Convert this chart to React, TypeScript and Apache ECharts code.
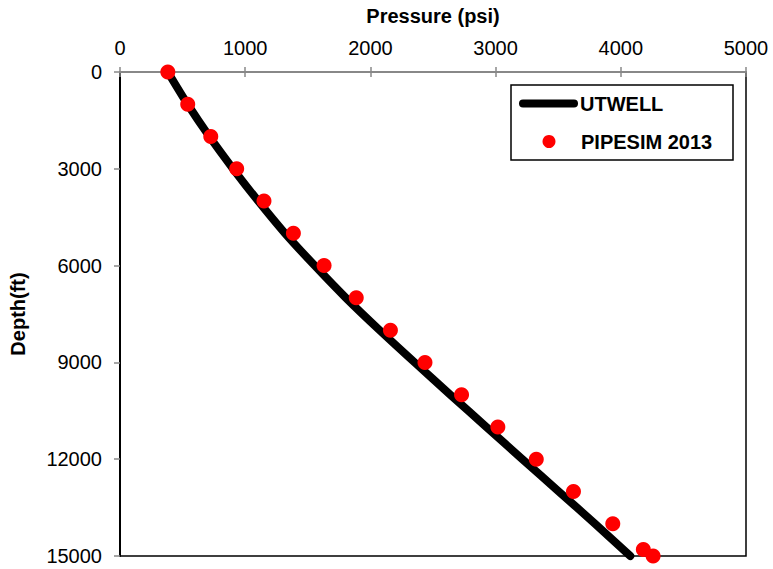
import React, { useEffect, useRef } from "react";
import * as echarts from "echarts";

// Depth stations (ft)
const lineDepth = [0, 1000, 2000, 3000, 4000, 5000, 6000, 7000, 8000, 9000, 10000, 11000, 12000, 13000, 14000, 15000];
// UTWELL pressure profile (psi)
const utwellPressure = [382, 540, 714, 903, 1104, 1318, 1555, 1804, 2073, 2353, 2638, 2926, 3214, 3504, 3794, 4076];

// PIPESIM 2013 results
const pipesimDepth = [0, 1000, 2000, 3000, 4000, 5000, 6000, 7000, 8000, 9000, 10000, 11000, 12000, 13000, 14000, 14800, 15000];
const pipesimPressure = [382, 541, 725, 932, 1150, 1385, 1630, 1887, 2160, 2436, 2728, 3018, 3325, 3622, 3936, 4180, 4258];

const xTicks = { min: 0, max: 5000, interval: 1000 };
const yTicks = { min: 0, max: 15000, interval: 3000 };

const FONT = "'Liberation Sans', Arial, sans-serif";
const plain = (v: number) => String(v);

export default function App() {
  const ref = useRef<HTMLDivElement>(null);

  useEffect(() => {
    if (!ref.current) return;
    const chart = echarts.init(ref.current, null, { renderer: "svg" });

    const lineData = lineDepth.map((d, i) => [utwellPressure[i], d]);
    const scatterData = pipesimDepth.map((d, i) => [pipesimPressure[i], d]);

    chart.setOption({
      animation: false,
      backgroundColor: "#fff",
      textStyle: { fontFamily: FONT },
      grid: {
        left: 118,
        right: 27,
        top: 72,
        bottom: 13,
        show: true,
        borderColor: "#000",
        borderWidth: 1.5,
      },
      xAxis: [
        {
          type: "value",
          position: "top",
          ...xTicks,
          name: "Pressure (psi)",
          nameLocation: "middle",
          nameGap: 46,
          nameTextStyle: { fontFamily: FONT, fontSize: 20, fontWeight: "bold", color: "#000" },
          axisLine: { show: true, lineStyle: { color: "#888", width: 2 } },
          axisTick: { show: true, inside: false, length: 5, lineStyle: { color: "#888", width: 1.5 } },
          axisLabel: { fontFamily: FONT, fontSize: 20, color: "#000", margin: 14, formatter: plain },
          splitLine: { show: false },
        },
        {
          type: "value",
          position: "top",
          ...xTicks,
          axisLine: { show: false },
          axisTick: { show: true, inside: true, length: 5, lineStyle: { color: "#888", width: 1.5 } },
          axisLabel: { show: false },
          splitLine: { show: false },
        },
      ],
      yAxis: {
        type: "value",
        inverse: true,
        ...yTicks,
        name: "Depth(ft)",
        nameLocation: "middle",
        nameGap: 92,
        nameRotate: 90,
        nameTextStyle: { fontFamily: FONT, fontSize: 20, fontWeight: "bold", color: "#000" },
        axisLine: { show: true, lineStyle: { color: "#000", width: 2 } },
        axisTick: { show: true, inside: false, length: 6, lineStyle: { color: "#888", width: 1.5 } },
        axisLabel: { fontFamily: FONT, fontSize: 20, color: "#000", margin: 18, formatter: plain },
        splitLine: { show: false },
      },
      series: [
        {
          name: "UTWELL",
          type: "line",
          data: lineData,
          smooth: 0.3,
          showSymbol: false,
          clip: false,
          lineStyle: { color: "#000", width: 8, cap: "round", join: "round" },
          z: 2,
        },
        {
          name: "PIPESIM 2013",
          type: "scatter",
          data: scatterData,
          symbol: "circle",
          symbolSize: 15,
          clip: false,
          itemStyle: { color: "#ff0000", opacity: 1 },
          z: 3,
        },
      ],
      graphic: [
        {
          type: "rect",
          shape: { x: 511, y: 85, width: 222, height: 75 },
          style: { fill: "#fff", stroke: "#000", lineWidth: 1.5 },
          z: 10,
        },
        {
          type: "line",
          shape: { x1: 523, y1: 103.5, x2: 574, y2: 103.5 },
          style: { stroke: "#000", lineWidth: 8, lineCap: "round" },
          z: 11,
        },
        {
          type: "text",
          x: 580,
          y: 103.5,
          style: {
            text: "UTWELL",
            fontFamily: FONT,
            fontSize: 20,
            fontWeight: "bold",
            fill: "#000",
            verticalAlign: "middle",
          },
          z: 11,
        },
        {
          type: "circle",
          shape: { cx: 549, cy: 141.5, r: 6.5 },
          style: { fill: "#ff0000" },
          z: 11,
        },
        {
          type: "text",
          x: 581,
          y: 141.5,
          style: {
            text: "PIPESIM 2013",
            fontFamily: FONT,
            fontSize: 20,
            fontWeight: "bold",
            fill: "#000",
            verticalAlign: "middle",
          },
          z: 11,
        },
      ],
    });

    return () => chart.dispose();
  }, []);

  return <div ref={ref} style={{ width: 773, height: 569, position: "absolute", left: 0, top: 0 }} />;
}
